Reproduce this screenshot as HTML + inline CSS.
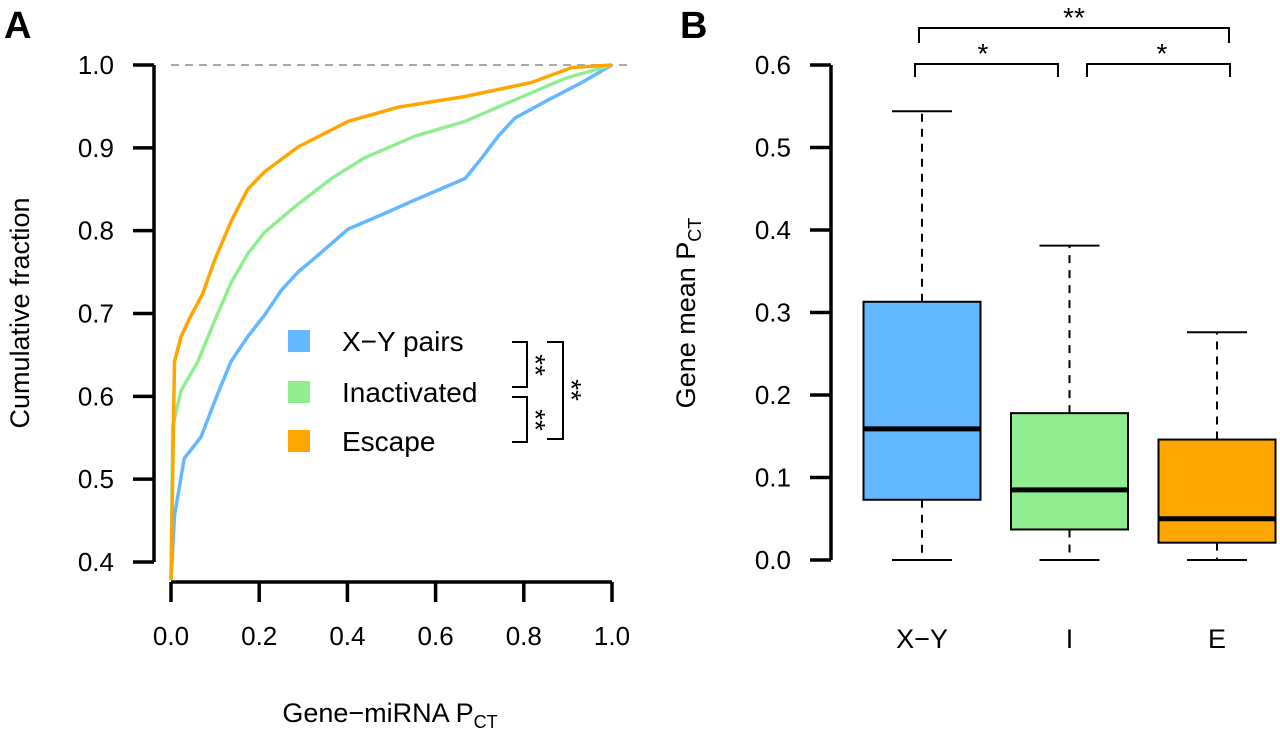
<!DOCTYPE html>
<html><head><meta charset="utf-8"><style>
body{margin:0;background:#fff}
svg{display:block;font-family:"Liberation Sans",sans-serif}
</style></head><body>
<svg width="1280" height="731" viewBox="0 0 1280 731">
<g id="A"></g>
<g id="B"></g>
</svg>
<script>
const NS='http://www.w3.org/2000/svg';
// Panel A data
const xyX=[0,.008,.03,.068,.106,.136,.174,.212,.25,.288,.326,.402,.477,.553,.667,.705,.742,.78,.856,.932,1];
const xyY=[.378,.456,.525,.551,.603,.642,.672,.698,.728,.75,.767,.802,.819,.837,.863,.888,.914,.936,.958,.979,1];
const inX=[0,.004,.023,.061,.098,.136,.174,.212,.288,.364,.439,.553,.667,.78,.894,1];
const inY=[.378,.564,.607,.642,.69,.737,.772,.798,.832,.863,.888,.914,.932,.958,.984,1];
const esX=[0,.008,.023,.042,.072,.098,.136,.174,.212,.288,.402,.515,.667,.818,.909,1];
const esY=[.378,.642,.672,.694,.724,.763,.811,.85,.871,.901,.932,.949,.962,.979,.997,1];
const aXTicks=[0,.2,.4,.6,.8,1];
const aXLabels=['0.0','0.2','0.4','0.6','0.8','1.0'];
const aYTicks=[.4,.5,.6,.7,.8,.9,1];
const aYLabels=['0.4','0.5','0.6','0.7','0.8','0.9','1.0'];
// Panel B data
const cats=['X\u2212Y','I','E'];
const wLo=[0,0,0];
const q1=[.073,.037,.021];
const med=[.159,.085,.050];
const q3=[.313,.178,.146];
const wHi=[.544,.381,.276];
const bYTicks=[0,.1,.2,.3,.4,.5,.6];
const bYLabels=['0.0','0.1','0.2','0.3','0.4','0.5','0.6'];
const colors=['#63b8ff','#90ee90','#ffa500'];

function mk(p,tag,at,txt){const e=document.createElementNS(NS,tag);for(const k in at)e.setAttribute(k,at[k]);if(txt!==undefined)e.textContent=txt;p.appendChild(e);return e;}
const A=document.getElementById('A'),B=document.getElementById('B');
const ax=v=>171+v*441, ay=v=>65+(1-v)*497/0.6;
mk(A,'text',{x:4,y:38,'font-size':38,'font-weight':'bold',},'A');
mk(A,'line',{x1:171,x2:630,y1:ay(1),y2:ay(1),stroke:'#aaa','stroke-width':2,'stroke-dasharray':'8,6',});
mk(A,'line',{x1:154,x2:154,y1:ay(1),y2:ay(.4),stroke:'#000','stroke-width':3.5,});
aYTicks.forEach((t,i)=>{const y=ay(t);
 const l=mk(A,'line',{x1:133,x2:154,y1:y,y2:y,stroke:'#000','stroke-width':3.5});
 
 const tx=mk(A,'text',{x:114,y:y+9,'font-size':26,'text-anchor':'end'},aYLabels[i]);
 });
mk(A,'line',{x1:ax(0),x2:ax(1),y1:582,y2:582,stroke:'#000','stroke-width':3.5,});
aXTicks.forEach((t,i)=>{const x=ax(t);
 const l=mk(A,'line',{x1:x,x2:x,y1:582,y2:602,stroke:'#000','stroke-width':3.5});
 
 const tx=mk(A,'text',{x:x,y:645,'font-size':26,'text-anchor':'middle'},aXLabels[i]);
 });
mk(A,'text',{x:20,y:313,'font-size':27,'text-anchor':'middle',transform:'rotate(-90 20 313)','dy':9,},'Cumulative fraction');
const xt=mk(A,'text',{x:390,y:722,'font-size':27,'text-anchor':'middle',},'Gene\u2212miRNA P');
mk(xt,'tspan',{'font-size':18,dy:6},'CT');
[[xyX,xyY,0,'curve-xy-pairs'],[inX,inY,1,'curve-inactivated'],[esX,esY,2,'curve-escape']].forEach(([X,Y,c,n])=>{
 const d=X.map((v,i)=>(i?'L':'M')+ax(v).toFixed(1)+','+ay(Y[i]).toFixed(1)).join('');
 const p=mk(A,'path',{d:d,fill:'none',stroke:colors[c],'stroke-width':3.5,'stroke-linejoin':'round'});
 });
[['X\u2212Y pairs',341],['Inactivated',392],['Escape',441]].forEach(([t,y],i)=>{
 const r=mk(A,'rect',{x:288,y:y-11,width:22,height:22,fill:colors[i]});
 
 const tx=mk(A,'text',{x:342,y:y+10,'font-size':28},t);
 });
const br='stroke:#000;stroke-width:2;fill:none';
mk(A,'path',{d:'M512,342H527V387H512',style:br,});
mk(A,'path',{d:'M512,397H527V442H512',style:br,});
mk(A,'path',{d:'M547,342H563V439H547',style:br,});
[[536,365],[536,420],[572,390]].forEach(([x,y])=>{const t=mk(A,'text',{x:x,y:y,'font-size':28,'text-anchor':'middle',transform:`rotate(90 ${x} ${y})`,dy:10},'**');
 });

// Panel B
const by=v=>560-v*825, bx=i=>922+i*147.5;
mk(B,'text',{x:680,y:38,'font-size':38,'font-weight':'bold',},'B');
mk(B,'line',{x1:831,x2:831,y1:by(0),y2:by(.6),stroke:'#000','stroke-width':3.5,});
bYTicks.forEach((t,i)=>{const y=by(t);
 const l=mk(B,'line',{x1:810,x2:831,y1:y,y2:y,stroke:'#000','stroke-width':3.5});
 
 const tx=mk(B,'text',{x:791,y:y+9,'font-size':26,'text-anchor':'end'},bYLabels[i]);
 });
const yt=mk(B,'text',{x:695,y:313,'font-size':27,'text-anchor':'middle',transform:'rotate(-90 695 313)',},'Gene mean P');
mk(yt,'tspan',{'font-size':18,dy:6},'CT');
cats.forEach((c,i)=>{const x=bx(i),hw=58.5,cw=30;
 const g=mk(B,'g',{});
 mk(g,'line',{x1:x,x2:x,y1:by(q3[i]),y2:by(wHi[i]),stroke:'#000','stroke-width':2,'stroke-dasharray':'8,7'});
 mk(g,'line',{x1:x,x2:x,y1:by(q1[i]),y2:by(wLo[i]),stroke:'#000','stroke-width':2,'stroke-dasharray':'8,7'});
 mk(g,'line',{x1:x-cw,x2:x+cw,y1:by(wHi[i]),y2:by(wHi[i]),stroke:'#000','stroke-width':2});
 mk(g,'line',{x1:x-cw,x2:x+cw,y1:by(wLo[i]),y2:by(wLo[i]),stroke:'#000','stroke-width':2});
 mk(g,'rect',{x:x-hw,y:by(q3[i]),width:2*hw,height:by(q1[i])-by(q3[i]),fill:colors[i],stroke:'#000','stroke-width':2});
 mk(g,'line',{x1:x-hw,x2:x+hw,y1:by(med[i]),y2:by(med[i]),stroke:'#000','stroke-width':5});
 const tx=mk(B,'text',{x:x,y:648,'font-size':27,'text-anchor':'middle'},c);
 });
mk(B,'path',{d:'M919,43V28H1229V43',style:br,});
mk(B,'path',{d:'M915,77V64H1058V77',style:br,});
mk(B,'path',{d:'M1087,77V64H1230V77',style:br,});
mk(B,'text',{x:1074,y:27,'font-size':28,'text-anchor':'middle',},'**');
mk(B,'text',{x:983,y:63,'font-size':28,'text-anchor':'middle',},'*');
mk(B,'text',{x:1162,y:63,'font-size':28,'text-anchor':'middle',},'*');
</script>
</body></html>
